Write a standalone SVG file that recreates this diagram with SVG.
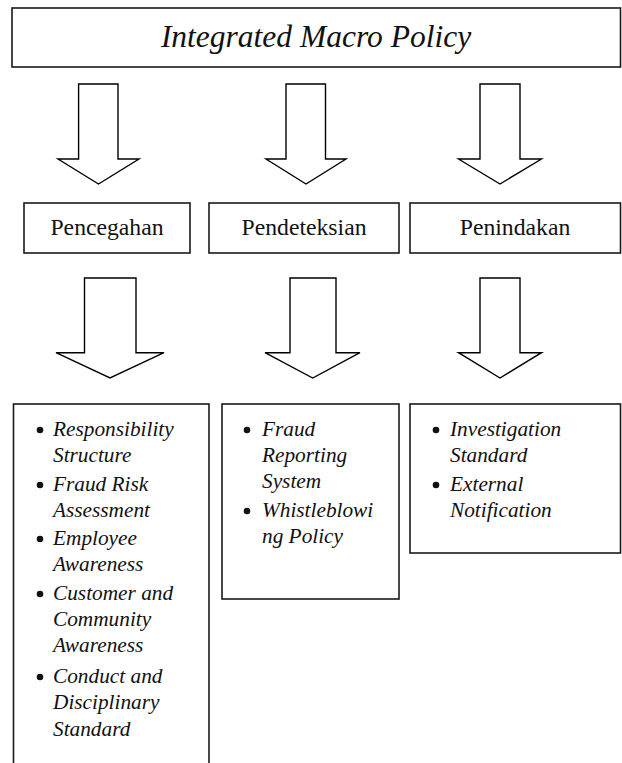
<svg xmlns="http://www.w3.org/2000/svg" width="622" height="763" viewBox="0 0 622 763">
<style>
.box{fill:#fff;stroke:#1a1a1a;stroke-width:1.6}
.arr{fill:#fff;stroke:#000;stroke-width:1.4;stroke-linejoin:miter}
.title{font-family:"Liberation Serif","Times New Roman",serif;font-style:italic;font-size:31.5px;fill:#111}
.lbl{font-family:"Liberation Serif","Times New Roman",serif;font-size:23.7px;fill:#111}
.it{font-family:"Liberation Serif","Times New Roman",serif;font-style:italic;font-size:21.3px;fill:#111}
.dot{fill:#111}
</style>
<rect width="622" height="763" fill="#fff"/>
<g id="connectors">
<polygon class="arr" points="78.6,84 118,84 118,159 139,159 98.5,184 58,159 78.6,159"/>
<polygon class="arr" points="286,84 325.5,84 325.5,159 346,159 306,184 266,159 286,159"/>
<polygon class="arr" points="480,84 520,84 520,159 541.5,159 500,184 458.5,159 480,159"/>
<polygon class="arr" points="84.5,278 136,278 136,352.7 164,352.7 110,378 56,352.7 84.5,352.7"/>
<polygon class="arr" points="290,278 336,278 336,352.7 360,352.7 312.7,378 265,352.7 290,352.7"/>
<polygon class="arr" points="480,278 520,278 520,352.7 541.5,352.7 500,378 458.5,352.7 480,352.7"/>
</g>
<g id="macro">
<rect class="box" x="12" y="8" width="608.5" height="59"/>
<text class="title" x="316" y="47" text-anchor="middle">Integrated Macro Policy</text>
</g>
<g id="pencegahan">
<rect class="box" x="24" y="203" width="166" height="50"/>
<text class="lbl" x="107" y="235" text-anchor="middle">Pencegahan</text>
</g>
<g id="pendeteksian">
<rect class="box" x="209" y="203" width="190" height="50"/>
<text class="lbl" x="304" y="235" text-anchor="middle">Pendeteksian</text>
</g>
<g id="penindakan">
<rect class="box" x="410" y="203" width="210.5" height="50"/>
<text class="lbl" x="515" y="235" text-anchor="middle">Penindakan</text>
</g>
<g id="pencegahan-items">
<rect class="box" x="13.5" y="404" width="195.5" height="370"/>
<circle class="dot" cx="40" cy="430" r="3.3"/>
<circle class="dot" cx="40" cy="485" r="3.3"/>
<circle class="dot" cx="40" cy="539" r="3.3"/>
<circle class="dot" cx="40" cy="594" r="3.3"/>
<circle class="dot" cx="40" cy="677" r="3.3"/>
<text class="it" x="53" y="436">Responsibility</text>
<text class="it" x="53" y="462">Structure</text>
<text class="it" x="53" y="491">Fraud Risk</text>
<text class="it" x="53" y="517">Assessment</text>
<text class="it" x="53" y="545">Employee</text>
<text class="it" x="53" y="571">Awareness</text>
<text class="it" x="53" y="600">Customer and</text>
<text class="it" x="53" y="626">Community</text>
<text class="it" x="53" y="652">Awareness</text>
<text class="it" x="53" y="683">Conduct and</text>
<text class="it" x="53" y="709">Disciplinary</text>
<text class="it" x="53" y="736">Standard</text>
</g>
<g id="pendeteksian-items">
<rect class="box" x="222" y="404" width="177" height="195"/>
<circle class="dot" cx="247" cy="430" r="3.3"/>
<circle class="dot" cx="247" cy="511" r="3.3"/>
<text class="it" x="262" y="436">Fraud</text>
<text class="it" x="262" y="462">Reporting</text>
<text class="it" x="262" y="488">System</text>
<text class="it" x="262" y="517">Whistleblowi</text>
<text class="it" x="262" y="543">ng Policy</text>
</g>
<g id="penindakan-items">
<rect class="box" x="410" y="404" width="210.5" height="149"/>
<circle class="dot" cx="436" cy="430" r="3.3"/>
<circle class="dot" cx="436" cy="485" r="3.3"/>
<text class="it" x="450" y="436">Investigation</text>
<text class="it" x="450" y="462">Standard</text>
<text class="it" x="450" y="491">External</text>
<text class="it" x="450" y="517">Notification</text>
</g>
</svg>
